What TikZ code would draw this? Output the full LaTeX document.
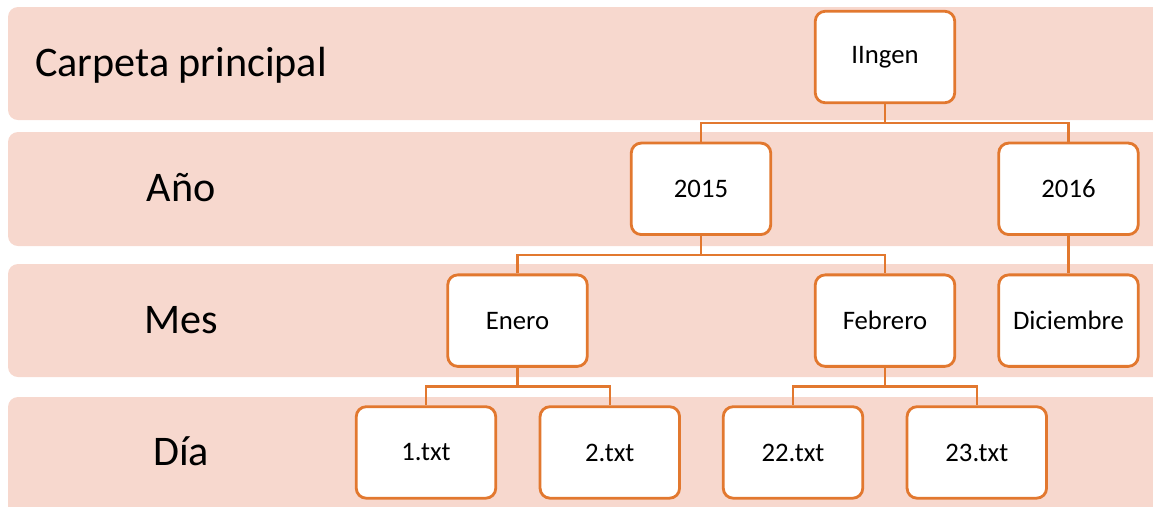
\documentclass[tikz,border=0pt]{standalone}
\usepackage{fontspec}
\setmainfont{Carlito}
\usetikzlibrary{positioning}

\definecolor{bandpink}{HTML}{F7D8CE}
\definecolor{linkorange}{HTML}{E2782F}

\begin{document}
\begin{tikzpicture}[
    node distance=0.75cm and 0.83cm,
    folder/.style={rectangle, draw=linkorange, line width=1.6pt, fill=white, rounded corners=0.2cm, minimum height=1.83cm, minimum width=2.79cm, align=center, font=\fontsize{15.2}{18}\selectfont},
    level/.style={anchor=base, font=\fontsize{24}{28}\selectfont},
    link/.style={draw=linkorange, line width=1.5pt}
]

\useasboundingbox (0,0) rectangle (23.06,-10.12);
\clip (0,0) rectangle (23.06,-10.12);

% bands
\fill[bandpink, rounded corners=0.2cm] (0.16,-0.14) rectangle (23.5,-2.40);
\fill[bandpink, rounded corners=0.2cm] (0.16,-2.64) rectangle (23.5,-4.92);
\fill[bandpink, rounded corners=0.2cm] (0.16,-5.28) rectangle (23.5,-7.54);
\fill[bandpink, rounded corners=0.2cm] (0.16,-7.94) rectangle (23.5,-10.5);

\node[level] (carpeta) at (3.62,-1.52) {Carpeta principal};
\node[level] (anio) at (3.62,-4.02) {Año};
\node[level] (mes) at (3.62,-6.66) {Mes};
\node[level] (dia) at (3.62,-9.30) {Día};

% tree
\node[folder] (ilngen) at (17.7,-1.14) {IIngen};
\node[folder, below=of ilngen, xshift=-3.68cm] (y2015) {2015};
\node[folder, below=of ilngen, xshift=3.67cm] (y2016) {2016};
\node[folder, below=of y2015, xshift=-3.67cm] (enero) {Enero};
\node[folder, below=of y2015, xshift=3.68cm] (febrero) {Febrero};
\node[folder, below=of y2016] (diciembre) {Diciembre};
\node[folder, below=of enero, xshift=-1.83cm] (t1) {1.txt};
\node[folder, right=of t1] (t2) {2.txt};
\node[folder, below=of febrero, xshift=-1.84cm] (t22) {22.txt};
\node[folder, right=of t22] (t23) {23.txt};

\draw[link] (ilngen.south) -- ++(0,-0.38) -| (y2015.north);
\draw[link] (ilngen.south) -- ++(0,-0.38) -| (y2016.north);
\draw[link] (y2015.south) -- ++(0,-0.38) -| (enero.north);
\draw[link] (y2015.south) -- ++(0,-0.38) -| (febrero.north);
\draw[link] (y2016) -- (diciembre);
\draw[link] (enero.south) -- ++(0,-0.38) -| (t1.north);
\draw[link] (enero.south) -- ++(0,-0.38) -| (t2.north);
\draw[link] (febrero.south) -- ++(0,-0.38) -| (t22.north);
\draw[link] (febrero.south) -- ++(0,-0.38) -| (t23.north);

\end{tikzpicture}
\end{document}
